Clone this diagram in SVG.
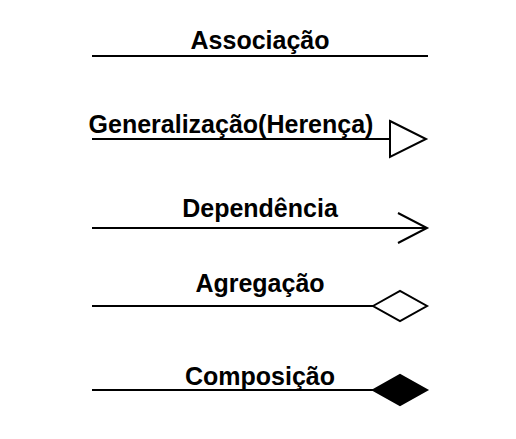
<svg xmlns="http://www.w3.org/2000/svg" width="516" height="439" viewBox="0 0 516 439">
<style>
.lbl{font-family:"Liberation Sans",Arial,sans-serif;font-weight:bold;font-size:25px;fill:#000;text-anchor:middle}
.ln{stroke:#000;stroke-width:2;fill:none}
</style>
<rect width="516" height="439" fill="#fff"/>
<g id="connectors">
<line class="ln" x1="92" y1="56" x2="428" y2="56"/>
<line class="ln" x1="92" y1="139" x2="390" y2="139"/>
<polygon class="ln" fill="#fff" points="390,121 426,139 390,157"/>
<line class="ln" x1="92" y1="228" x2="426" y2="228"/>
<polyline class="ln" points="398,213 427,228 398,243"/>
<line class="ln" x1="92" y1="306" x2="373" y2="306"/>
<polygon class="ln" style="fill:#fff" points="373,306 400,291 427,306 400,321"/>
<line class="ln" x1="92" y1="390" x2="373" y2="390"/>
<polygon class="ln" style="fill:#000" points="373,390 400,375 427,390 400,405"/>
</g>
<g id="associacao"><text class="lbl" x="260" y="49">Associação</text></g>
<g id="generalizacao"><text class="lbl" x="231" y="133">Generalização(Herença)</text></g>
<g id="dependencia"><text class="lbl" x="260" y="217">Dependência</text></g>
<g id="agregacao"><text class="lbl" x="260" y="292">Agregação</text></g>
<g id="composicao"><text class="lbl" x="260" y="385">Composição</text></g>
</svg>
